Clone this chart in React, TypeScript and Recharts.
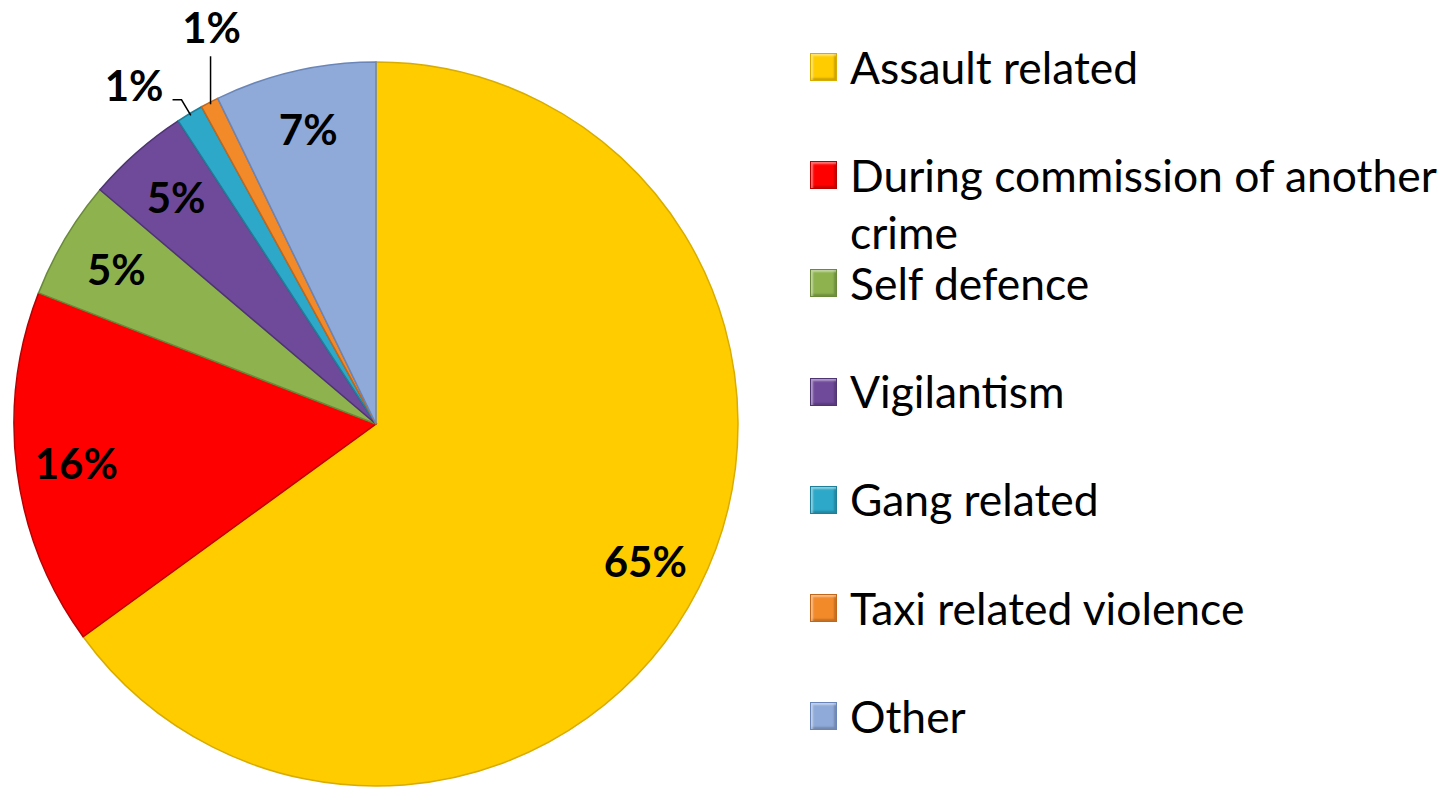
import React from 'react';
import { PieChart, Pie, Cell, Legend } from 'recharts';

const categories = [
  'Assault related',
  'During commission of another crime',
  'Self defence',
  'Vigilantism',
  'Gang related',
  'Taxi related violence',
  'Other',
];
const shares = [65.0, 15.9, 5.3, 4.6, 1.2, 0.8, 7.2];
const percentLabels = ['65%', '16%', '5%', '5%', '1%', '1%', '7%'];
const colors = ['#FFCC00', '#FF0000', '#8DB24E', '#6F4A9B', '#2DA8C8', '#F38A2A', '#8FAAD9'];
const edgeColors = ['#D8AD00', '#B80000', '#6A8A3A', '#4F3474', '#1F7E98', '#C2661C', '#6A86B8'];

const data = categories.map((name, i) => ({ name, value: shares[i] }));

const RAD = Math.PI / 180;
const FONT = 'Lato, "Open Sans", sans-serif';

const polar = (cx: number, cy: number, r: number, angle: number) => ({
  x: cx + r * Math.cos(-angle * RAD),
  y: cy + r * Math.sin(-angle * RAD),
});

const renderLabel = (props: any) => {
  const { cx, cy, midAngle, outerRadius, index } = props;
  const text = percentLabels[index];
  const common = {
    fontFamily: FONT,
    fontWeight: 700,
    fontSize: 42,
    fill: '#000',
  } as any;
  if (index === 4) {
    const p = polar(cx, cy, outerRadius - 2, midAngle);
    const e = polar(cx, cy, outerRadius + 16, midAngle);
    const hx = e.x - 9;
    return (
      <g key={`lbl-${index}`}>
        <polyline points={`${p.x},${p.y} ${e.x},${e.y} ${hx},${e.y}`} fill="none" stroke="#000" strokeWidth={1.5} />
        <text x={hx - 9} y={e.y + 1} textAnchor="end" {...common}>{text}</text>
      </g>
    );
  }
  if (index === 5) {
    const p = polar(cx, cy, outerRadius - 2, midAngle);
    const topY = p.y - 48;
    return (
      <g key={`lbl-${index}`}>
        <line x1={p.x} y1={p.y} x2={p.x} y2={topY} stroke="#000" strokeWidth={1.5} />
        <text x={p.x + 1} y={topY - 13} textAnchor="middle" {...common}>{text}</text>
      </g>
    );
  }
  const pos = polar(cx, cy, outerRadius * 0.835, midAngle);
  return (
    <text key={`lbl-${index}`} x={pos.x} y={pos.y} textAnchor="middle" dominantBaseline="central" {...common}>
      {text}
    </text>
  );
};

const renderLegend = () => {
  return (
    <div style={{ position: 'relative', fontFamily: FONT, fontSize: 44.4, color: '#000' }}>
      {categories.map((name, k) => (
        <div
          key={`leg-${k}`}
          style={{ position: 'absolute', left: 0, top: k * 108.2, display: 'flex', alignItems: 'flex-start' }}
        >
          <div
            style={{
              width: 27,
              height: 28,
              marginTop: 15.5,
              boxSizing: 'border-box',
              background: colors[k],
              border: `1.5px solid ${edgeColors[k]}`,
              boxShadow: 'inset 2px 2px 2px rgba(255,255,255,0.45), inset -2px -2px 2px rgba(0,0,0,0.2)',
            }}
          />
          <div style={{ marginLeft: 13, width: 600, lineHeight: '57px', whiteSpace: 'normal' }}>{name}</div>
        </div>
      ))}
    </div>
  );
};

export default function App() {
  return (
    <div style={{ position: 'absolute', left: 0, top: 0, width: 1456, height: 791, background: '#fff' }}>
      <PieChart width={1456} height={791} margin={{ top: 0, right: 0, bottom: 0, left: 0 }}>
        <Pie
          data={data}
          dataKey="value"
          nameKey="name"
          cx={376}
          cy={424}
          outerRadius={362}
          startAngle={90}
          endAngle={-270}
          label={renderLabel}
          labelLine={false}
          isAnimationActive={false}
          stroke="#555"
          strokeWidth={1}
        >
          {data.map((d, i) => (
            <Cell key={`cell-${i}`} fill={colors[i]} stroke={edgeColors[i]} strokeWidth={1.5} />
          ))}
        </Pie>
        <Legend
          layout="vertical"
          align="right"
          verticalAlign="top"
          content={renderLegend}
          wrapperStyle={{ position: 'absolute', left: 810, top: 37.5, width: 640, height: 740 }}
        />
      </PieChart>
    </div>
  );
}
